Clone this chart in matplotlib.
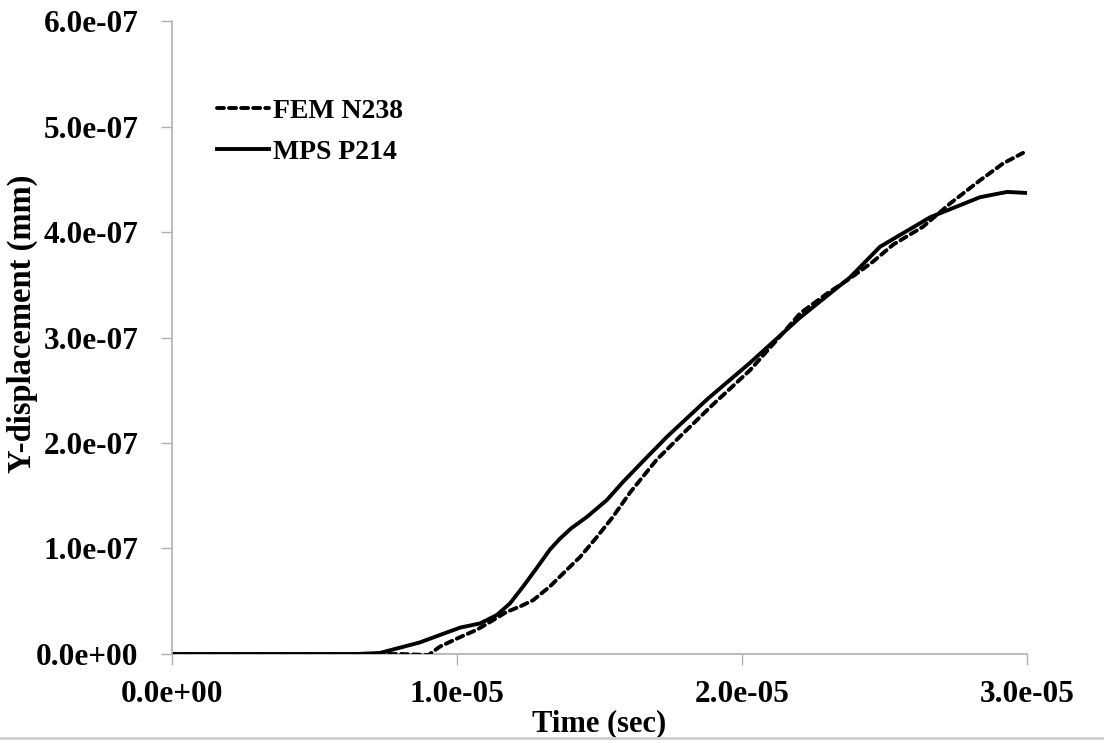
import numpy as np
import matplotlib
matplotlib.use('Agg')
import matplotlib.pyplot as plt
from matplotlib.lines import Line2D

# %% data
fem_t = [0.0, 0.50e-5, 0.80e-5, 0.85e-5, 0.90e-5, 0.94e-5, 1.011e-5, 1.07e-5, 1.126e-5,
         1.175e-5, 1.221e-5, 1.267e-5, 1.326e-5, 1.386e-5, 1.432e-5, 1.491e-5, 1.547e-5,
         1.607e-5, 1.70e-5, 1.793e-5, 1.90e-5, 2.028e-5, 2.12e-5, 2.204e-5, 2.30e-5,
         2.379e-5, 2.46e-5, 2.53e-5, 2.635e-5, 2.73e-5, 2.835e-5, 2.916e-5, 2.986e-5]
fem_y = [0.0, 0.0, 0.0, -0.005e-7, -0.01e-7, 0.07e-7, 0.16e-7, 0.23e-7, 0.32e-7,
         0.40e-7, 0.45e-7, 0.51e-7, 0.64e-7, 0.80e-7, 0.92e-7, 1.11e-7, 1.30e-7,
         1.53e-7, 1.84e-7, 2.09e-7, 2.37e-7, 2.69e-7, 2.97e-7, 3.23e-7, 3.42e-7,
         3.56e-7, 3.72e-7, 3.88e-7, 4.05e-7, 4.27e-7, 4.49e-7, 4.65e-7, 4.75e-7]

mps_t = [0.0, 0.55e-5, 0.65e-5, 0.73e-5, 0.80e-5, 0.87e-5, 0.94e-5, 1.011e-5, 1.081e-5,
         1.14e-5, 1.186e-5, 1.232e-5, 1.281e-5, 1.326e-5, 1.36e-5, 1.40e-5, 1.456e-5,
         1.526e-5, 1.582e-5, 1.65e-5, 1.737e-5, 1.88e-5, 2.028e-5, 2.204e-5, 2.379e-5,
         2.484e-5, 2.66e-5, 2.835e-5, 2.93e-5, 3.0e-5]
mps_y = [0.0, 0.0, 0.0, 0.01e-7, 0.06e-7, 0.11e-7, 0.18e-7, 0.25e-7, 0.29e-7,
         0.37e-7, 0.48e-7, 0.64e-7, 0.82e-7, 0.99e-7, 1.09e-7, 1.19e-7, 1.30e-7,
         1.46e-7, 1.63e-7, 1.82e-7, 2.06e-7, 2.42e-7, 2.76e-7, 3.19e-7, 3.57e-7,
         3.86e-7, 4.14e-7, 4.33e-7, 4.38e-7, 4.37e-7]

x_ticks = [0.0, 1.0e-5, 2.0e-5, 3.0e-5]
y_ticks = [0.0, 1.0e-7, 2.0e-7, 3.0e-7, 4.0e-7, 5.0e-7, 6.0e-7]

# %% plot
plt.rcParams['font.family'] = ['Liberation Serif', 'DejaVu Serif']
plt.rcParams['font.weight'] = 'bold'

fig = plt.figure(figsize=(11.04, 7.43), dpi=100)
ax = fig.add_axes([0.1558, 0.1198, 0.7745, 0.8519])

ax.plot(fem_t, fem_y, color='black', lw=2.8, linestyle=(0, (1.8, 1.3)),
        solid_capstyle='round', dash_capstyle='round', label='FEM N238')
ax.plot(mps_t, mps_y, color='black', lw=2.8, solid_joinstyle='round', label='MPS P214')

ax.set_xlim(0, 3.0e-5)
ax.set_ylim(0, 6.0e-7)
ax.set_xticks(x_ticks)
ax.set_yticks(y_ticks)
ax.set_xticklabels(['%.1e' % v for v in x_ticks])
ax.set_yticklabels(['%.1e' % v for v in y_ticks])

for s in ['top', 'right']:
    ax.spines[s].set_visible(False)
for s in ['left', 'bottom']:
    ax.spines[s].set_color('#b0b0b0')
    ax.spines[s].set_linewidth(1.2)
ax.spines['bottom'].set_zorder(0)

ax.tick_params(axis='both', direction='out', length=8, width=1.0, color='#b0b0b0',
               labelsize=22.5, labelcolor='black')
ax.tick_params(axis='y', pad=16)
ax.tick_params(axis='x', pad=11)

ax.set_xlabel('Time (sec)', fontsize=22, fontweight='bold', labelpad=0)
ax.set_ylabel('Y-displacement (mm)', fontsize=23.5, fontweight='bold')
ax.yaxis.set_label_coords(-0.157, 0.521)

ax.legend(loc='upper left', bbox_to_anchor=(0.04, 0.895), frameon=False,
          fontsize=20, handlelength=1.85, handletextpad=0.15, labelspacing=0.55,
          borderaxespad=0)

fig.add_artist(Line2D([0, 1], [0.0067, 0.0067], color='#d0d0d0', lw=2,
                      transform=fig.transFigure))

fig.savefig('out.png', dpi=100)
